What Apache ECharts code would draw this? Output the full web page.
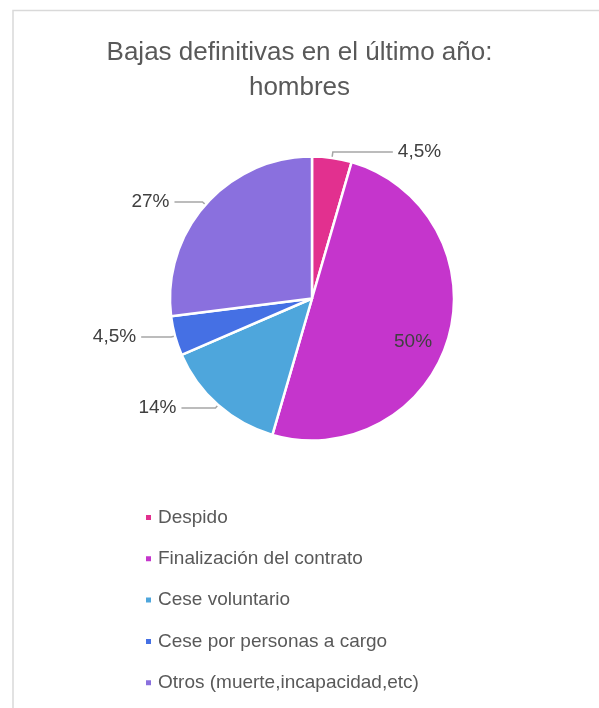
<!DOCTYPE html>
<html>
<head>
<meta charset="utf-8">
<script src="https://cdn.jsdelivr.net/npm/echarts@6/dist/echarts.min.js"></script>
<style>html,body{margin:0;padding:0;background:#fff;}#c{width:599px;height:708px;}</style>
</head>
<body>
<div id="c"></div>
<script>
const titleLines = ['Bajas definitivas en el último año:', 'hombres'];
const categories = ['Despido', 'Finalización del contrato', 'Cese voluntario', 'Cese por personas a cargo', 'Otros (muerte,incapacidad,etc)'];
const values = [4.5, 50, 14, 4.5, 27];
const valueLabels = ['4,5%', '50%', '14%', '4,5%', '27%'];
const colors = ['#E2308F', '#C535CC', '#4EA6DC', '#4570E4', '#8A70DE'];

const chart = echarts.init(document.getElementById('c'), null, {renderer: 'canvas'});
const font = "'Liberation Sans', Arial, sans-serif";
const lineLens = [[6, 60], null, [4, 34], [4, 30], [4, 28]];
chart.setOption({
  backgroundColor: '#ffffff',
  animation: false,
  color: colors,
  graphic: [{
    type: 'rect', silent: true, z: -1,
    shape: {x: 13, y: 10.5, width: 800, height: 900},
    style: {fill: 'none', stroke: '#d9d9d9', lineWidth: 1.5}
  }],
  title: {
    text: titleLines.join('\n'),
    left: 'center', top: 30,
    textStyle: {fontFamily: font, fontSize: 26, fontWeight: 'normal', color: '#595959', lineHeight: 35}
  },
  legend: {
    orient: 'vertical', left: 139, top: 503,
    itemWidth: 7, itemHeight: 7, itemGap: 22.3, icon: 'rect',
    textStyle: {fontFamily: font, fontSize: 19, color: '#595959', padding: [0, 0, 0, 1]},
    data: categories
  },
  series: [{
    type: 'pie',
    center: [312, 298.5],
    radius: [0, 142],
    startAngle: 90,
    clockwise: true,
    avoidLabelOverlap: false,
    itemStyle: {borderColor: '#ffffff', borderWidth: 2.5},
    label: {
      show: true, position: 'outside',
      fontFamily: font, fontSize: 19, color: '#404040',
      formatter: p => valueLabels[p.dataIndex]
    },
    labelLine: {show: true, length: 6, length2: 28, lineStyle: {color: '#a6a6a6', width: 1.5}},
    data: categories.map((c, i) => {
      const d = {name: c, value: values[i]};
      if (i === 1) {
        d.label = {position: 'inside', color: '#404040', offset: [30, 23]};
        d.labelLine = {show: false};
      } else {
        d.labelLine = {length: lineLens[i][0], length2: lineLens[i][1]};
      }
      return d;
    })
  }]
});
</script>
</body>
</html>
